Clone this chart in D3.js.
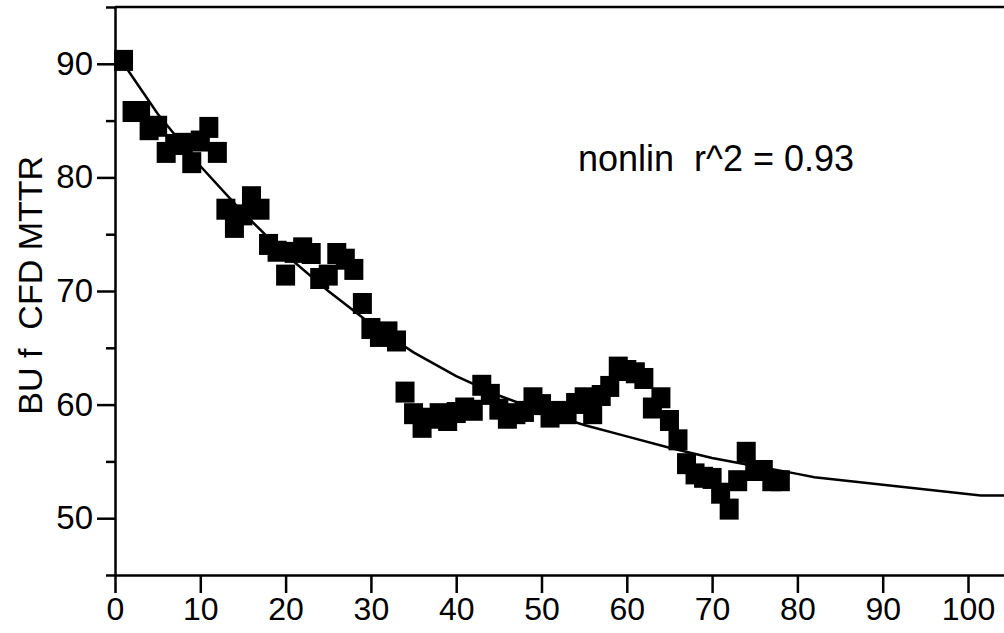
<!DOCTYPE html>
<html>
<head>
<meta charset="utf-8">
<script src="https://cdn.jsdelivr.net/npm/d3@7"></script>
<style>
  body { margin: 0; background: #fff; }
  svg { display: block; }
  text { font-family: "Liberation Sans", Arial, sans-serif; fill: #000; }
</style>
</head>
<body>
<div id="chart"></div>
<script>
(function() {
  // Measured points (x index, MTTR value)
  var pointX = [1, 2, 3, 4, 5, 6, 7, 8, 9, 10, 11, 12, 13, 14, 15, 16, 17, 18, 19, 20,
                21, 22, 23, 24, 25, 26, 27, 28, 29, 30, 31, 32, 33, 34, 35, 36, 37, 38, 39, 40,
                41, 42, 43, 44, 45, 46, 47, 48, 49, 50, 51, 52, 53, 54, 55, 56, 57, 58, 59, 60,
                61, 62, 63, 64, 65, 66, 67, 68, 69, 70, 71, 72, 73, 74, 75, 76, 77, 78];
  var pointY = [90.3, 85.8, 85.8, 84.2, 84.5, 82.2, 82.9, 83.0, 81.3, 83.2,
                84.4, 82.2, 77.2, 75.6, 76.7, 78.3, 77.2, 74.1, 73.5, 71.4,
                73.4, 73.8, 73.3, 71.1, 71.4, 73.3, 72.8, 71.9, 68.9, 66.7,
                66.0, 66.4, 65.6, 61.1, 59.2, 58.0, 58.8, 59.2, 58.6, 59.3,
                59.7, 59.5, 61.7, 60.9, 59.6, 58.8, 59.2, 59.4, 60.6, 60.0,
                58.9, 59.4, 59.2, 60.1, 60.6, 59.2, 60.8, 61.6, 63.3, 63.0,
                62.8, 62.3, 59.7, 60.6, 58.6, 56.9, 54.8, 53.9, 53.6, 53.5,
                52.2, 50.8, 53.3, 55.8, 54.2, 54.2, 53.3, 53.3];

  // Nonlinear fit curve
  var fitX = [1, 5, 10, 15, 20, 25, 30, 35, 40, 45, 50, 55, 60, 65, 70, 75, 80, 82, 101.5, 105];
  var fitY = [90.0, 85.6, 81.0, 76.9, 73.2, 70.0, 67.1, 64.6, 62.5, 60.8,
              59.4, 58.2, 57.2, 56.2, 55.3, 54.6, 53.9, 53.6, 52.0, 52.0];

  // Tick values
  var xTicks = [0, 10, 20, 30, 40, 50, 60, 70, 80, 90, 100];
  var yTicks = [50, 60, 70, 80, 90];
  var yMinor = [45, 55, 65, 75, 85, 95];

  var width = 1004, height = 633;

  var svg = d3.select("#chart")
    .append("svg")
      .attr("width", width)
      .attr("height", height);

  var x = d3.scaleLinear()
    .domain([0, 105])
    .range([115, 115 + 105 * 8.53]);

  var y = d3.scaleLinear()
    .domain([45, 95])
    .range([575, 7]);

  // minor y ticks
  svg.append("g")
    .attr("transform", "translate(" + x(0) + ",0)")
    .call(d3.axisLeft(y).tickValues(yMinor).tickSize(9).tickFormat(""))
    .call(function(g) { g.select(".domain").remove(); })
    .selectAll("line").attr("stroke-width", 2.5);

  // y axis
  var yAxis = svg.append("g")
    .attr("transform", "translate(" + x(0) + ",0)")
    .call(d3.axisLeft(y).tickValues(yTicks).tickSize(18).tickSizeOuter(0).tickPadding(4));
  yAxis.select(".domain").attr("stroke-width", 2.5);
  yAxis.selectAll("line").attr("stroke-width", 2.5);
  yAxis.selectAll("text")
    .style("font-size", "33px")
    .style("font-family", "'Liberation Sans', Arial, sans-serif");

  // x axis
  var xAxis = svg.append("g")
    .attr("transform", "translate(0," + y(45) + ")")
    .call(d3.axisBottom(x).tickValues(xTicks).tickSize(18).tickSizeOuter(0).tickPadding(4));
  xAxis.select(".domain").attr("stroke-width", 2.5);
  xAxis.selectAll("line").attr("stroke-width", 2.5);
  xAxis.selectAll("text")
    .style("font-size", "32px")
    .style("font-family", "'Liberation Sans', Arial, sans-serif");

  // top frame line
  svg.append("line")
    .attr("x1", x(0)).attr("x2", x(105))
    .attr("y1", y(95)).attr("y2", y(95))
    .attr("stroke", "#000")
    .attr("stroke-width", 2.5);

  // y axis label
  svg.append("text")
    .attr("transform", "translate(42," + y(70.5) + ") rotate(-90)")
    .attr("text-anchor", "middle")
    .attr("xml:space", "preserve")
    .style("font-size", "34px")
    .style("white-space", "pre")
    .text("BU f  CFD MTTR");

  // fit curve
  var fitData = fitX.map(function(d, i) { return {x: d, y: fitY[i]}; });
  svg.append("path")
    .datum(fitData)
    .attr("fill", "none")
    .attr("stroke", "#000")
    .attr("stroke-width", 2.5)
    .attr("d", d3.line()
      .x(function(d) { return x(d.x); })
      .y(function(d) { return y(d.y); }));

  // square markers
  var pts = pointX.map(function(d, i) { return {x: d, y: pointY[i]}; });
  svg.selectAll(".dot")
    .data(pts)
    .enter()
    .append("rect")
      .attr("class", "dot")
      .attr("x", function(d) { return x(d.x) - 9.5; })
      .attr("y", function(d) { return y(d.y) - 10.5; })
      .attr("width", 19)
      .attr("height", 21)
      .attr("fill", "#000");

  // annotation
  svg.append("text")
    .attr("x", 578)
    .attr("y", 171)
    .attr("xml:space", "preserve")
    .style("font-size", "36px")
    .style("white-space", "pre")
    .text("nonlin  r^2 = 0.93");
})();
</script>
</body>
</html>
